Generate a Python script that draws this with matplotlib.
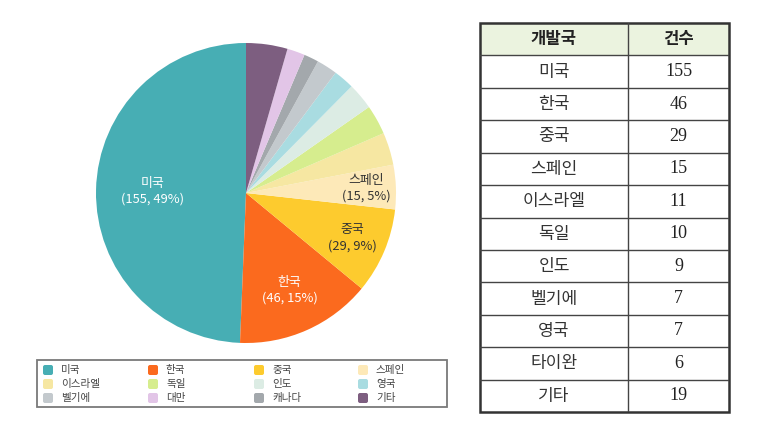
import matplotlib.pyplot as plt
import numpy as np
from matplotlib.patches import Rectangle, FancyBboxPatch

plt.rcParams['font.family'] = ['Noto Sans CJK KR', 'DejaVu Sans']

# pie data (counter-clockwise from 12 o'clock)
pie_names = ['미국', '한국', '중국', '스페인', '이스라엘', '독일', '인도', '영국', '벨기에', '캐나다', '대만', '기타']
pie_values = [155, 46, 29, 15, 11, 10, 9, 7, 7, 5, 6, 14]
pie_colors = ['#47aeb4', '#fb6a1e', '#fdcb2e', '#fde9b8', '#f6e7a2', '#d6ed8e',
              '#dcece4', '#a9dce1', '#c3c9cd', '#a3a8ac', '#e2c5e7', '#7d5e80']
labelled = {'미국': 'white', '한국': 'white', '중국': '#333333', '스페인': '#333333'}
label_r = {'미국': 0.62, '한국': 0.71, '중국': 0.77, '스페인': 0.80}

legend_order = ['미국', '한국', '중국', '스페인', '이스라엘', '독일', '인도', '영국', '벨기에', '대만', '캐나다', '기타']

# table data
table_header = ['개발국', '건수']
table_names = ['미국', '한국', '중국', '스페인', '이스라엘', '독일', '인도', '벨기에', '영국', '타이완', '기타']
table_counts = [155, 46, 29, 15, 11, 10, 9, 7, 7, 6, 19]

W, H = 757, 426
fig = plt.figure(figsize=(W / 100, H / 100), dpi=100)

# ---- pie ----
cx, cy, r = 246, 193, 150
ax = fig.add_axes([(cx - r) / W, (H - cy - r) / H, 2 * r / W, 2 * r / H])
total = sum(pie_values)
wedges, _ = ax.pie(pie_values, colors=pie_colors, startangle=90, counterclock=True,
                   radius=1, wedgeprops=dict(linewidth=0))
for w, name, v in zip(wedges, pie_names, pie_values):
    if name in labelled:
        ang = np.deg2rad((w.theta1 + w.theta2) / 2)
        rr = label_r[name]
        ax.text(rr * np.cos(ang), rr * np.sin(ang),
                '%s\n(%d, %d%%)' % (name, v, round(100 * v / total)),
                ha='center', va='center', fontsize=9.3, color=labelled[name],
                linespacing=1.3)
ax.set_xlim(-1, 1)
ax.set_ylim(-1, 1)
ax.set_aspect('equal')
ax.axis('off')

# ---- legend (fixed grid, drawn on a pixel overlay) ----
ov = fig.add_axes([0, 0, 1, 1], zorder=-1)
ov.set_xlim(0, W)
ov.set_ylim(H, 0)
ov.axis('off')
ov.add_patch(Rectangle((37, 360), 447 - 37, 407 - 360, facecolor='white',
                       edgecolor='#7a7a7a', lw=1.3))
color_of = dict(zip(pie_names, pie_colors))
col_x = [43, 148, 254, 358]
row_y = [370, 384, 398]
for i, name in enumerate(legend_order):
    x, y = col_x[i % 4], row_y[i // 4]
    ov.add_patch(FancyBboxPatch((x + 1, y - 4), 8, 8, boxstyle='round,pad=1,rounding_size=2',
                                facecolor=color_of[name], edgecolor='none'))
    ov.text(x + 18, y, name, ha='left', va='center', fontsize=7.6, color='#444444')

# ---- table ----
tx0, tx1, ty0, ty1 = 480, 729, 23, 412
tax = fig.add_axes([tx0 / W, (H - ty1) / H, (tx1 - tx0) / W, (ty1 - ty0) / H])
nrows = len(table_names) + 1
tax.set_xlim(0, 1)
tax.set_ylim(nrows, 0)
tax.axis('off')
split = (628 - tx0) / (tx1 - tx0)
tax.add_patch(Rectangle((0, 0), 1, 1, facecolor='#ebf3df', edgecolor='none'))
for i in range(1, nrows):
    tax.plot([0, 1], [i, i], color='#444444', lw=1.0)
tax.plot([split, split], [0, nrows], color='#444444', lw=1.0)
tax.add_patch(Rectangle((0, 0), 1, nrows, facecolor='none', edgecolor='#333333', lw=1.8, clip_on=False))
tax.text(split / 2, 0.5, table_header[0], ha='center', va='center', fontsize=12,
         fontweight='bold', color='#222222')
tax.text((split + 1) / 2, 0.5, table_header[1], ha='center', va='center', fontsize=12,
         fontweight='bold', color='#222222')
for i, (n, c) in enumerate(zip(table_names, table_counts)):
    tax.text(split / 2, i + 1.5, n, ha='center', va='center', fontsize=12.3, color='#333333')
    tax.text((split + 1) / 2, i + 1.5, str(c), ha='center', va='center', fontsize=13,
             color='#222222', family='Liberation Serif')

fig.savefig('out.png', dpi=100)
